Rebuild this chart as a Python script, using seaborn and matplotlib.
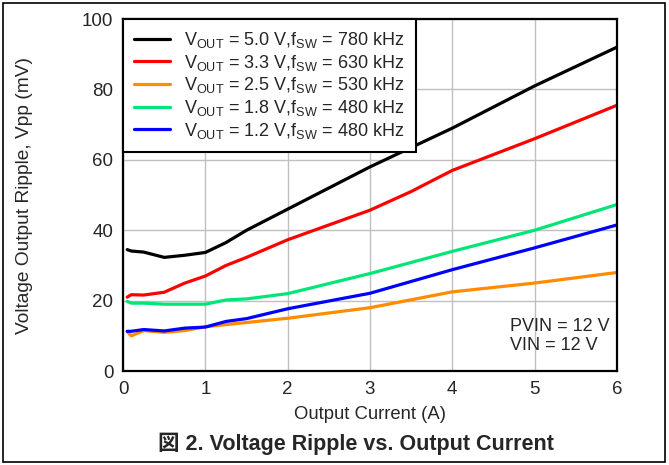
import pandas as pd
import numpy as np
import matplotlib.pyplot as plt
import seaborn as sns
from matplotlib.patches import Rectangle

# ---- data ----
x_black = [0.05, 0.1, 0.25, 0.5, 0.75, 1.0, 1.25, 1.5, 2, 2.5, 3, 4, 5, 6]
y_black = [34.5, 34.1, 33.8, 32.3, 32.9, 33.7, 36.5, 40.0, 46.0, 52.0, 58.0, 69.0, 81.0, 92.0]

x_red = [0.05, 0.1, 0.25, 0.5, 0.75, 1.0, 1.25, 1.5, 2, 3, 3.5, 4, 5, 6]
y_red = [21.0, 21.7, 21.6, 22.4, 25.0, 27.0, 30.0, 32.3, 37.3, 45.7, 51.0, 57.0, 66.0, 75.5]

x_orange = [0.05, 0.1, 0.25, 0.5, 0.75, 1.0, 1.5, 2, 3, 4, 5, 6]
y_orange = [11.2, 10.0, 11.5, 11.0, 11.5, 12.6, 13.8, 15.0, 18.0, 22.5, 25.0, 28.0]

x_green = [0.05, 0.1, 0.25, 0.5, 1.0, 1.25, 1.5, 2, 3, 4, 5, 6]
y_green = [19.8, 19.3, 19.3, 19.0, 19.0, 20.2, 20.5, 22.0, 27.7, 34.0, 40.0, 47.3]

x_blue = [0.05, 0.1, 0.25, 0.5, 0.75, 1.0, 1.25, 1.5, 2, 3, 4, 5, 6]
y_blue = [11.3, 11.3, 11.8, 11.4, 12.2, 12.5, 14.1, 14.9, 17.7, 22.1, 28.8, 35.0, 41.5]

labels = [
    r"V$_{\rm OUT}$ = 5.0 V,f$_{\rm SW}$ = 780 kHz",
    r"V$_{\rm OUT}$ = 3.3 V,f$_{\rm SW}$ = 630 kHz",
    r"V$_{\rm OUT}$ = 2.5 V,f$_{\rm SW}$ = 530 kHz",
    r"V$_{\rm OUT}$ = 1.8 V,f$_{\rm SW}$ = 480 kHz",
    r"V$_{\rm OUT}$ = 1.2 V,f$_{\rm SW}$ = 480 kHz",
]
colors = ["#000000", "#ff0000", "#ff8c00", "#00e676", "#0000ff"]

# ---- style ----
sns.set_style("whitegrid")
plt.rcParams['font.family'] = ['Liberation Sans', 'Noto Sans CJK JP']
plt.rcParams['mathtext.fontset'] = 'custom'
plt.rcParams['mathtext.rm'] = 'Liberation Sans'
plt.rcParams['mathtext.it'] = 'Liberation Sans'

fig = plt.figure(figsize=(6.69, 4.65), dpi=100)
ax = fig.add_axes([0.184, 0.202, 0.738, 0.757])

series = [(x_black, y_black), (x_red, y_red), (x_orange, y_orange),
          (x_green, y_green), (x_blue, y_blue)]
for (xs, ys), lab, c in zip(series, labels, colors):
    sns.lineplot(x=xs, y=ys, ax=ax, color=c, linewidth=2.3, label=lab)

ax.set_xlim(0, 6)
ax.set_ylim(0, 100)
ax.set_xticks(range(0, 7))
ax.set_yticks(range(0, 101, 20))
ax.grid(True, color="#c0c0c0", linewidth=1.0)
for s in ax.spines.values():
    s.set_color("black")
    s.set_linewidth(1.6)
ax.tick_params(labelsize=13.5, length=0, pad=7)

ax.set_xlabel("Output Current (A)", fontsize=13.3)
ax.xaxis.set_label_coords(0.5, -0.10)
ax.set_ylabel("Voltage Output Ripple, Vpp (mV)", fontsize=13.8)
ax.yaxis.set_label_coords(-0.182, 0.5)

leg = ax.legend(loc="upper left", fontsize=13, frameon=True, fancybox=False,
                borderaxespad=0, handlelength=2.0, handletextpad=0.8,
                labelspacing=0.15, borderpad=0.6, framealpha=1)
leg.get_frame().set_edgecolor("black")
leg.get_frame().set_linewidth(1.5)

ax.text(0.783, 0.152, "PVIN = 12 V\nVIN = 12 V", transform=ax.transAxes,
        fontsize=13, va="top", ha="left", linespacing=1.2)

fig.text(0.532, 0.045, "図 2. Voltage Ripple vs. Output Current",
         fontsize=15.5, fontweight="bold", ha="center", va="center")

fig.patches.append(Rectangle((0.004, 0.006), 0.990, 0.988, transform=fig.transFigure,
                             fill=False, edgecolor="black", linewidth=1.2))

fig.savefig("out.png", dpi=100)
